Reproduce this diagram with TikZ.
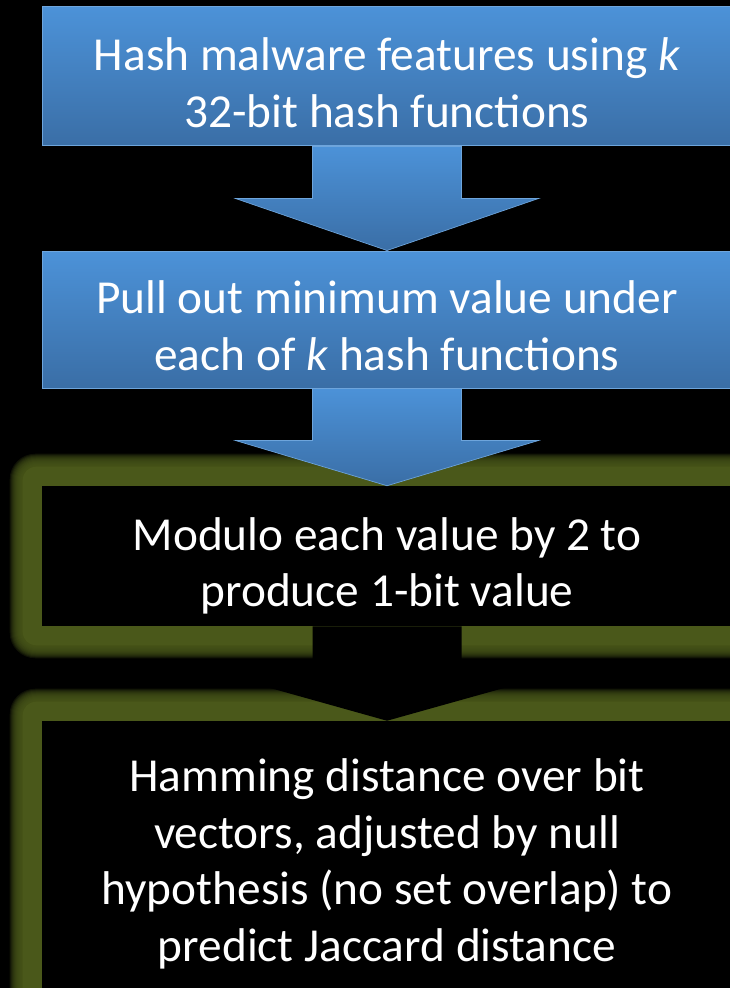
\documentclass[tikz,border=0pt]{standalone}
\usepackage{fontspec}
\setmainfont{Carlito}
\usetikzlibrary{calc}

\definecolor{boxtop}{RGB}{76,146,216}
\definecolor{boxbot}{RGB}{58,110,166}
\definecolor{boxedge}{RGB}{110,165,220}
\definecolor{glowgreen}{RGB}{74,88,26}

\tikzset{
    stepbox/.style={rectangle, inner sep=0pt, minimum width=517.5pt},
    bluebox/.style={stepbox, draw=boxedge, line width=0.75pt,
        top color=boxtop, bottom color=boxbot},
    darkbox/.style={stepbox, fill=black},
    steptext/.style={align=center, text=white, inner sep=0pt,
        font=\fontsize{35.5}{42.5}\selectfont},
    bluearrow/.style={draw=boxedge, line width=0.5pt, top color=boxtop, bottom color=boxbot},
    darkarrow/.style={fill=black}
}

% block arrow from the bottom of #1 to the top of #2
\newcommand{\blockarrow}[3]{
    \path[#3] ($(#1.south)+(-74.5,0)$) -- ($(#1.south)+(74.5,0)$)
        -- ($(#1.south)+(74.5,52)$) -- ($(#1.south)+(151.5,52)$)
        -- (#2.north)
        -- ($(#1.south)+(-151.5,52)$) -- ($(#1.south)+(-74.5,52)$) -- cycle;
}

% green halo round a dark box
\newcommand{\halo}[1]{
    \foreach \g in {32,31,...,20}
        \fill[glowgreen, opacity=0.2, rounded corners=0.6*\g]
            ($(#1.north west)+(-\g,-\g)$) rectangle ($(#1.south east)+(\g,\g)$);
    \fill[glowgreen, rounded corners=10]
        ($(#1.north west)+(-19,-19)$) rectangle ($(#1.south east)+(19,19)$);
}

\begin{document}
\begin{tikzpicture}[x=0.75pt, y=-0.75pt]
    \useasboundingbox (0,0) rectangle (730,988);
    \clip (0,0) rectangle (730,988);
    \fill[black] (0,0) rectangle (730,988);

    \coordinate (modpos) at (387,556);
    \coordinate (hampos) at (387,863);
    \node[stepbox, minimum height=105pt] (modulo) at (modpos) {};
    \node[stepbox, minimum height=213pt] (hamming) at (hampos) {};
    \halo{modulo}
    \halo{hamming}

    \node[bluebox, minimum height=104.25pt] (hash) at (387,76.5) {};
    \node[bluebox, minimum height=102.75pt] (minval) at (387,319.5) {};
    \node[darkbox, minimum height=105pt] (modfill) at (modpos) {};
    \node[darkbox, minimum height=213pt] (hamfill) at (hampos) {};

    \blockarrow{hash}{minval}{bluearrow}
    \blockarrow{minval}{modulo}{bluearrow}
    \blockarrow{modulo}{hamming}{darkarrow}

    \node[steptext] (hashtext) at ($(hash.center)+(0,6)$)
        {Hash malware features using \textit{k}\\32-bit hash functions};
    \node[steptext] (minvaltext) at ($(minval.center)+(0,6)$)
        {Pull out minimum value under\\each of \textit{k} hash functions};
    \node[steptext] (modtext) at ($(modulo.center)+(0,10)$)
        {Modulo each value by 2 to\\produce 1-bit value};
    \node[steptext] (hamtext) at ($(hamming.center)+(0,1)$)
        {Hamming distance over bit\\vectors, adjusted by null\\hypothesis (no set overlap) to\\predict Jaccard distance};
\end{tikzpicture}
\end{document}
